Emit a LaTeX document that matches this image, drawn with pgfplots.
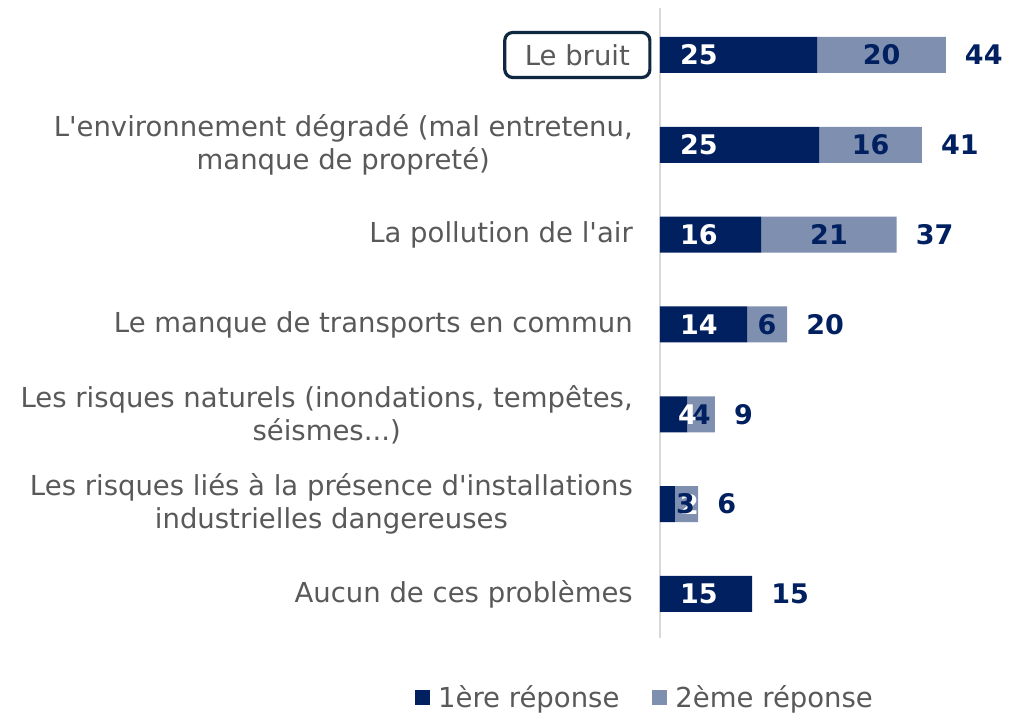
\documentclass[border=0pt]{standalone}
\usepackage{pgfplots}
\pgfplotsset{compat=1.18}
\usepackage{fontspec}
\setmainfont{DejaVu Sans}
\definecolor{dark}{RGB}{0,32,96}
\definecolor{light}{RGB}{127,143,175}
\definecolor{lbl}{RGB}{89,89,89}
\definecolor{boxc}{RGB}{14,40,65}
\definecolor{axl}{RGB}{217,217,217}
\newcommand\lblfont{\fontsize{27.5}{33}\selectfont}
\newcommand\numfont{\fontsize{27}{32}\selectfont\bfseries}
\newcommand\tdots{.\kern0pt.\kern0pt.}
\newcommand\q{\textquotesingle}
\pgfplotsset{mybase/.style={width=349pt, height=630pt, scale only axis,
  xmin=0, xmax=54.1, ymin=-0.523, ymax=6.49, y dir=reverse, clip=false}}
\begin{document}
\begin{tikzpicture}
\begin{axis}[mybase, xbar stacked, bar width=36pt,
  axis x line=none, axis y line*=left,
  y axis line style={-, draw=axl, line width=2pt},
  ytick={1,2,3,4,5,6},
  yticklabels={{L\q environnement dégradé (mal entretenu,\\manque de propreté)},
    {La pollution de l\q air},
    {Le manque de transports en commun},
    {Les risques naturels (inondations, tempêtes,\\séismes\tdots)},
    {Les risques liés à la présence d\q installations\\industrielles dangereuses},
    {Aucun de ces problèmes}},
  major tick length=0pt, ytick style={draw=none},
  yticklabel style={align=center, font=\lblfont, text=lbl, inner sep=0pt, xshift=-27pt},
  extra y ticks={0}, extra y tick labels={Le bruit},
  extra y tick style={yticklabel style={draw=boxc, line width=3.2pt, rounded corners=8pt,
     inner xsep=20pt, minimum height=45pt, xshift=18.5pt}},
  legend style={at={(axis description cs:-0.0458,-0.0937)}, anchor=center,
     draw=none, fill=none, legend columns=2, font=\lblfont, text=lbl, inner sep=0pt,
     nodes={inner sep=0pt},
     /tikz/every odd column/.append style={column sep=8pt},
     /tikz/every even column/.append style={column sep=33pt}},
]
\addplot[fill=dark, draw=none, legend image code/.code={\fill[dark] (0pt,-7.5pt) rectangle (15pt,7.5pt);}]
  coordinates {(24.4,0) (24.7,1) (15.7,2) (13.5,3) (4.2,4) (2.3,5) (14.3,6)};
\addplot[fill=light, draw=none, legend image code/.code={\fill[light] (0pt,-7.5pt) rectangle (15pt,7.5pt);}]
  coordinates {(19.9,0) (15.9,1) (21.0,2) (6.2,3) (4.3,4) (3.6,5) (0,6)};
\legend{1ère réponse, 2ème réponse}
\end{axis}
\begin{axis}[mybase, axis lines=none]
\addplot[draw=none, nodes near coords, point meta=explicit symbolic,
  every node near coord/.append style={anchor=west, xshift=20pt, text=white, font=\numfont, inner sep=0pt}]
  coordinates {(0,0) [25] (0,1) [25] (0,2) [16] (0,3) [14] (0,5) [2] (0,6) [15]};
\addplot[draw=none, nodes near coords, point meta=explicit symbolic,
  every node near coord/.append style={anchor=center, text=dark, font=\numfont, inner sep=0pt}]
  coordinates {(34.35,0) [20] (32.65,1) [16] (26.2,2) [21] (16.6,3) [6] (6.4,4) [4] (3.95,5) [3]};
\addplot[draw=none, nodes near coords, point meta=explicit symbolic,
  every node near coord/.append style={anchor=west, xshift=18pt, text=white, font=\numfont, inner sep=0pt}]
  coordinates {(0,4) [4]};
\addplot[draw=none, nodes near coords, point meta=explicit symbolic,
  every node near coord/.append style={anchor=west, xshift=19pt, text=dark, font=\numfont, inner sep=0pt}]
  coordinates {(44.3,0) [44] (40.6,1) [41] (36.7,2) [37] (19.7,3) [20] (8.5,4) [9] (5.9,5) [6] (14.3,6) [15]};
\end{axis}
\pgfresetboundingbox
\path[use as bounding box] (current axis.south west) ++(-660pt,-74pt) rectangle ++(1009pt,712pt);
\end{tikzpicture}
\end{document}
